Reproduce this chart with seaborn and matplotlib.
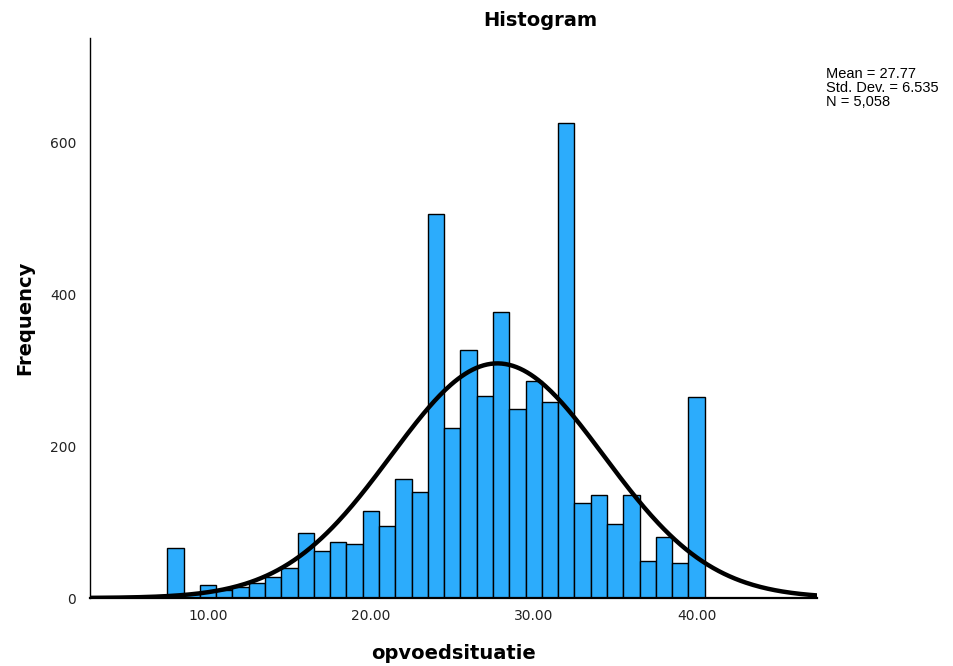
import numpy as np
import pandas as pd
import matplotlib
matplotlib.use("Agg")
import matplotlib.pyplot as plt
import seaborn as sns

# Data
scores = [8, 9, 10, 11, 12, 13, 14, 15, 16, 17, 18, 19, 20, 21, 22, 23, 24,
          25, 26, 27, 28, 29, 30, 31, 32, 33, 34, 35, 36, 37, 38, 39, 40]
counts = [66, 5, 17, 11, 14, 20, 28, 40, 86, 62, 74, 71, 114, 95, 157, 140, 506,
          224, 326, 266, 377, 249, 285, 258, 625, 125, 136, 98, 136, 49, 80, 46, 264]
mean_val = 27.77
std_val = 6.535
n_val = 5058
x_ticks = [10, 20, 30, 40]
y_ticks = [0, 200, 400, 600]

sns.set_theme(style="white")
plt.rcParams['font.family'] = ['DejaVu Sans']
plt.rcParams['text.color'] = 'black'
plt.rcParams['axes.labelcolor'] = 'black'

fig = plt.figure(figsize=(9.54, 6.66), dpi=100)
ax = fig.add_axes([90/954, 1-598/666, (817-90)/954, (598-38)/666])

df = pd.DataFrame({"opvoedsituatie": scores, "count": counts})
sns.histplot(data=df, x="opvoedsituatie", weights="count", discrete=True,
             color="#2CACFC", edgecolor="black", linewidth=1.0, alpha=1.0, ax=ax)

xlo, xhi = 2.75, 47.4
grid = np.linspace(xlo, xhi, 400)
curve = n_val * 1.0 / (std_val * np.sqrt(2*np.pi)) * np.exp(-0.5*((grid-mean_val)/std_val)**2)
sns.lineplot(x=grid, y=curve, color="black", linewidth=3.2, ax=ax)

ax.set_xlim(xlo, xhi)
ax.set_ylim(0, 737)
ax.set_xticks(x_ticks)
ax.set_xticklabels([f"{t:.2f}" for t in x_ticks])
ax.set_yticks(y_ticks)
ax.set_yticklabels([str(t) for t in y_ticks])
ax.tick_params(axis='both', length=0, labelsize=10, labelcolor="#222222")
ax.tick_params(axis='x', pad=8)
ax.tick_params(axis='y', pad=10)

for s in ["top", "right"]:
    ax.spines[s].set_visible(False)
for s in ["left", "bottom"]:
    ax.spines[s].set_visible(True)
    ax.spines[s].set_color("black")
ax.spines["left"].set_linewidth(1.0)
ax.spines["bottom"].set_linewidth(1.6)

ax.set_xlabel("opvoedsituatie", fontsize=14, fontweight="bold", labelpad=15, color="black")
ax.set_ylabel("Frequency", fontsize=14, fontweight="bold", labelpad=11, color="black")

fig.text(540/954, 1-21/666, "Histogram", ha="center", va="center",
         fontsize=14, fontweight="bold", color="black")

fig.text(826/954, 1-67/666,
         f"Mean = {mean_val:.2f}\nStd. Dev. = {std_val:.3f}\nN = {n_val:,}",
         ha="left", va="top", fontsize=10.5, linespacing=1.0, color="black",
         family=["Liberation Sans", "DejaVu Sans"])

fig.savefig("out.png", dpi=100)
